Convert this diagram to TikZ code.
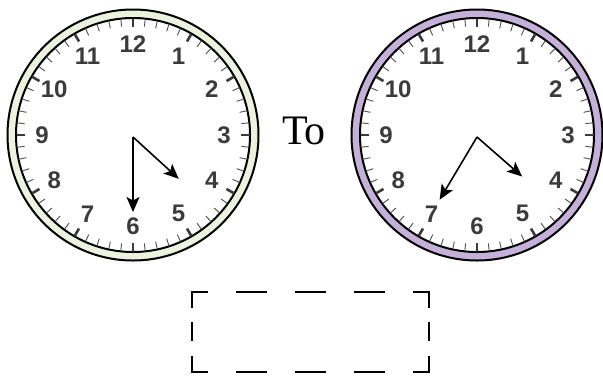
\documentclass[tikz,border=0pt]{standalone}
\usepackage{fontspec}
\setmainfont{Liberation Serif}
\setsansfont{Liberation Sans}
\usetikzlibrary{positioning, arrows.meta, calc}
\definecolor{ringgreen}{RGB}{237,242,222}
\definecolor{ringlilac}{RGB}{196,176,216}
\definecolor{dialgray}{RGB}{59,59,59}

\begin{document}
\begin{tikzpicture}[x=1pt, y=-1pt,
    hand/.style={-{Stealth[length=15pt, width=13pt, inset=3.5pt]}, line width=1.6pt},
    numeral/.style={font=\sffamily\bfseries\fontsize{24}{24}\selectfont, text=dialgray, inner sep=0pt},
    minutetick/.style={draw=dialgray!90, line width=0.9pt},
    hourtick/.style={draw=dialgray, line width=2.6pt},
    dashside/.style={line width=2pt, line cap=rect}
]
    \useasboundingbox (0,0) rectangle (603,376);

    % Dials: name/centre/ring colour/hour angle/hour length/minute angle/minute length
    \foreach \name/\cx/\ring/\ha/\hl/\ma/\ml in {left/133/ringgreen/132.4/62/180/75, right/477/ringlilac/131.2/60/210.8/73} {
        \coordinate (\name) at (\cx,135);
        \draw[line width=2pt, fill=\ring] (\name) circle[radius=125.5];
        \draw[line width=2pt, fill=white] (\name) circle[radius=117];
        \foreach \m in {0,...,59}
            \draw[minutetick] ($(\name)+(6*\m:109)$) -- ($(\name)+(6*\m:116.5)$);
        \foreach \h in {0,...,11}
            \draw[hourtick] ($(\name)+(30*\h:108)$) -- ($(\name)+(30*\h:116.5)$);
        \foreach \n in {1,...,12}
            \node[numeral] (\name-\n) at ($(\name)+(30*\n-90:91)$) {\n};
        % Hands
        \coordinate (\name-o) at ($(\name)+(0,2)$);
        \coordinate (\name-h) at ($(\name-o)+(\ha-90:\hl)$);
        \coordinate (\name-m) at ($(\name-o)+(\ma-90:\ml)$);
        \draw[hand] (\name-o) -- (\name-h);
        \draw[hand] (\name-o) -- (\name-m);
    }

    \node[font=\fontsize{42}{42}\selectfont, anchor=base, inner sep=0pt] (to) at (304,144) {To};

    % Answer box
    \node[minimum width=236.6pt, minimum height=80pt, inner sep=0pt] (answer) at (310,331.7) {};
    \draw[dashside, dash pattern=on 29pt off 30pt, dash phase=14pt] (answer.north west) -- (answer.north east);
    \draw[dashside, dash pattern=on 29pt off 30pt, dash phase=14pt] (answer.south west) -- (answer.south east);
    \draw[dashside, dash pattern=on 17pt off 16.5pt on 30pt off 16.5pt, dash phase=48.5pt] (answer.north west) -- (answer.south west);
    \draw[dashside, dash pattern=on 17pt off 16.5pt on 30pt off 16.5pt, dash phase=48.5pt] (answer.north east) -- (answer.south east);
\end{tikzpicture}
\end{document}
